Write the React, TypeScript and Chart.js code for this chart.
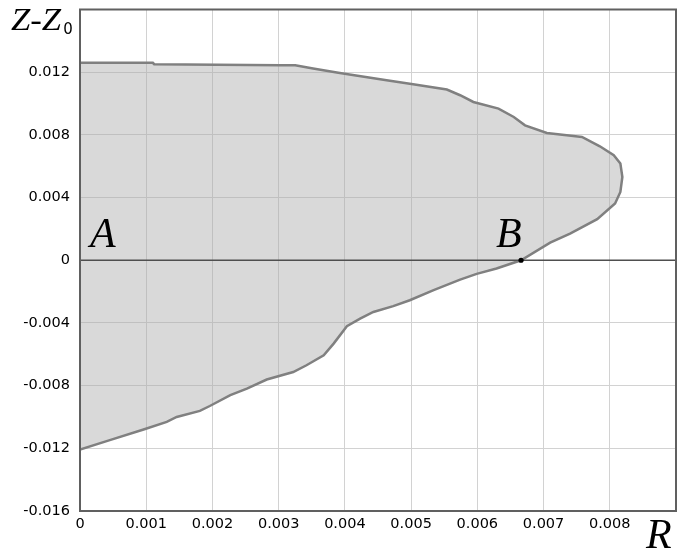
import React, { useEffect, useRef } from "react";
import { Chart, registerables } from "chart.js";

Chart.register(...registerables);

// Contour of the region, traced clockwise from the top of the axis R = 0
const contourR = [
  0, 0.0011, 0.00112, 0.00302, 0.00325, 0.00352, 0.0039, 0.00463, 0.00503,
  0.00554, 0.00574, 0.00594, 0.00632, 0.00655, 0.00672, 0.00705, 0.00735,
  0.00758, 0.00785, 0.00806, 0.00816, 0.00819, 0.00816, 0.00808, 0.00781,
  0.0074, 0.0071, 0.00666, 0.00629, 0.00599, 0.00574, 0.00534, 0.00498,
  0.00473, 0.00443, 0.00423, 0.00403, 0.00383, 0.00368, 0.00342, 0.00322,
  0.00282, 0.00252, 0.00227, 0.00196, 0.00181, 0.00146, 0.00131, 0.00096,
  0.00045, 0,
];
const contourZ = [
  0.0126, 0.0126, 0.01251, 0.01244, 0.01244, 0.01223, 0.01197, 0.01148,
  0.01123, 0.01089, 0.01053, 0.0101, 0.00968, 0.00914, 0.00861, 0.00812,
  0.00797, 0.00787, 0.00727, 0.0067, 0.00617, 0.00531, 0.00436, 0.00362,
  0.00262, 0.0017, 0.00112, 0, -0.00053, -0.00087, -0.00124, -0.00191,
  -0.00255, -0.00293, -0.0033, -0.00372, -0.00421, -0.00532, -0.00606,
  -0.0067, -0.00713, -0.00761, -0.00819, -0.00861, -0.0093, -0.00961, -0.01,
  -0.01031, -0.0108, -0.01148, -0.01208,
];

// Marked points on the axis Z = Z0
const pointA = { r: 0, z: 0, label: "A" };
const pointB = { r: 0.00666, z: 0, label: "B" };

// Axis ranges and steps
const rRange = [0, 0.009];
const rStep = 0.001;
const zRange = [-0.016, 0.016];
const zStep = 0.004;

const rTitle = "R";
const zTitle = "Z-Z";
const zTitleSub = "0";

const formatTick = (v: number, max: number) => {
  if (Math.abs(v - max) < 1e-9) return "";
  if (Math.abs(v) < 1e-12) return "0";
  return v.toFixed(3);
};

const SERIF = '"Liberation Serif", "Times New Roman", serif';
const SANS = '"DejaVu Sans", sans-serif';

const overlayPlugin = {
  id: "overlay",
  afterDatasetDraw(chart: any, args: any) {
    if (args.index !== 1) return;
    const { ctx, chartArea: a, scales } = chart;
    const y0 = scales.y.getPixelForValue(0);
    ctx.save();
    // axis Z = Z0
    ctx.strokeStyle = "#4f4f4f";
    ctx.lineWidth = 1.5;
    ctx.beginPath();
    ctx.moveTo(a.left, y0);
    ctx.lineTo(a.right, y0);
    ctx.stroke();
    // plot frame
    ctx.strokeStyle = "#606060";
    ctx.lineWidth = 2;
    ctx.strokeRect(a.left, a.top, a.right - a.left, a.bottom - a.top);
    ctx.restore();
  },
  afterDraw(chart: any) {
    const { ctx, chartArea: a, scales } = chart;
    const { x, y } = scales;
    ctx.save();
    ctx.fillStyle = "#000";
    ctx.textBaseline = "alphabetic";
    ctx.textAlign = "left";

    // vertical axis title: Z-Z0
    ctx.font = `italic 31px ${SERIF}`;
    ctx.save();
    ctx.translate(11, 30);
    ctx.scale(1.12, 1);
    ctx.fillText(zTitle, 0, 0);
    const w = ctx.measureText(zTitle).width * 1.12;
    ctx.restore();
    ctx.font = `15px ${SANS}`;
    ctx.fillText(zTitleSub, 11 + w + 2, 34);

    // horizontal axis title: R
    ctx.font = `italic 42px ${SERIF}`;
    ctx.fillText(rTitle, a.right - 30, a.bottom + 37);

    // point labels
    const ax = x.getPixelForValue(pointA.r);
    const ay = y.getPixelForValue(pointA.z);
    ctx.fillText(pointA.label, ax + 10, ay - 13);
    const bx = x.getPixelForValue(pointB.r);
    const by = y.getPixelForValue(pointB.z);
    ctx.fillText(pointB.label, bx - 25, by - 13);
    ctx.restore();
  },
};

export default function App() {
  const canvasRef = useRef<HTMLCanvasElement | null>(null);

  useEffect(() => {
    const canvas = canvasRef.current;
    if (!canvas) return;
    const contour = contourR.map((r, i) => ({ x: r, y: contourZ[i] }));
    const chart = new Chart(canvas, {
      type: "scatter",
      data: {
        datasets: [
          {
            data: [{ x: pointB.r, y: pointB.z }],
            showLine: false,
            pointRadius: 2.6,
            pointBackgroundColor: "#000",
            pointBorderWidth: 0,
          },
          {
            data: contour,
            showLine: true,
            fill: "shape",
            backgroundColor: "rgba(170,170,170,0.45)",
            borderColor: "#808080",
            borderWidth: 2.5,
            pointRadius: 0,
            tension: 0,
          },
        ],
      },
      options: {
        responsive: false,
        animation: false,
        devicePixelRatio: 1,
        layout: { padding: { top: 9.5, right: 7, left: 0, bottom: 0 } },
        plugins: {
          legend: { display: false },
          tooltip: { enabled: false },
        },
        scales: {
          x: {
            type: "linear",
            min: rRange[0],
            max: rRange[1],
            afterFit: (s: any) => {
              s.height = 41;
              s.paddingLeft = 0;
              s.paddingRight = 0;
            },
            border: { display: false },
            grid: { color: "#d2d2d2", lineWidth: 1, drawTicks: false },
            ticks: {
              stepSize: rStep,
              padding: 5,
              color: "#000",
              font: { family: SANS, size: 14.5 },
              maxRotation: 0,
              autoSkip: false,
              callback: (v: any) => formatTick(Number(v), rRange[1]),
            },
          },
          y: {
            type: "linear",
            min: zRange[0],
            max: zRange[1],
            afterFit: (s: any) => {
              s.width = 80;
              s.paddingTop = 0;
              s.paddingBottom = 0;
            },
            border: { display: false },
            grid: { color: "#d2d2d2", lineWidth: 1, drawTicks: false },
            ticks: {
              stepSize: zStep,
              padding: 10,
              color: "#000",
              font: { family: SANS, size: 14.5 },
              autoSkip: false,
              callback: (v: any) => formatTick(Number(v), zRange[1]),
            },
          },
        },
      },
      plugins: [overlayPlugin],
    } as any);
    return () => chart.destroy();
  }, []);

  return (
    <div style={{ position: "absolute", left: 0, top: 0, width: 683, height: 552, background: "#fff" }}>
      <canvas ref={canvasRef} width={683} height={552} style={{ display: "block" }} />
    </div>
  );
}
